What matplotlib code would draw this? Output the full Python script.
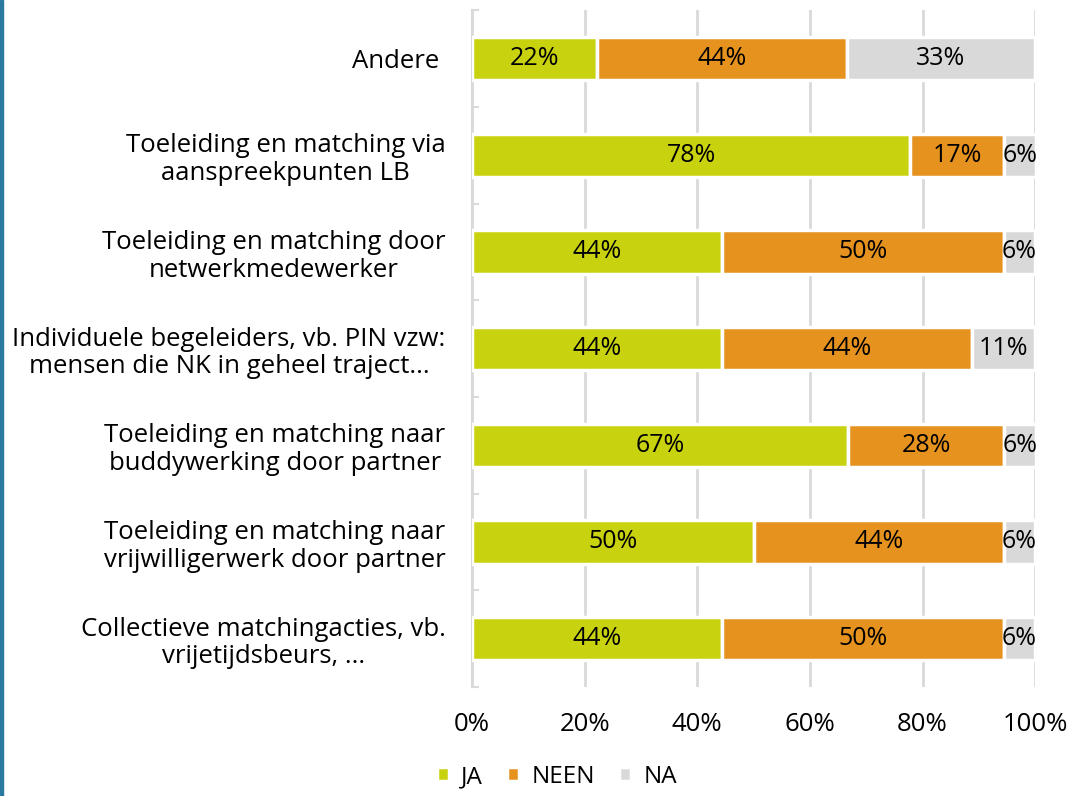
import matplotlib.pyplot as plt
from matplotlib.patches import Rectangle

plt.rcParams['font.family'] = ['Open Sans', 'DejaVu Sans']

# data (percentages, top to bottom)
categories = [
    "Andere ",
    "Toeleiding en matching via\naanspreekpunten LB",
    "Toeleiding en matching door\nnetwerkmedewerker",
    "Individuele begeleiders, vb. PIN vzw:\nmensen die NK in geheel traject...",
    "Toeleiding en matching naar\nbuddywerking door partner",
    "Toeleiding en matching naar\nvrijwilligerwerk door partner",
    "Collectieve matchingacties, vb.\nvrijetijdsbeurs, ...",
]
ja = [22.2, 77.8, 44.4, 44.4, 66.7, 50.0, 44.4]
neen = [44.4, 16.7, 50.0, 44.4, 27.8, 44.4, 50.0]
na = [33.3, 5.6, 5.6, 11.1, 5.6, 5.6, 5.6]
series = ["JA", "NEEN", "NA"]
colors = ["#c9d20e", "#e6921f", "#d9d9d9"]

fig = plt.figure(figsize=(10.75, 7.96), dpi=100)
ax = fig.add_axes([0.439, 0.137, 0.524, 0.850])

y = list(range(len(categories)))
left = [0.0] * len(categories)
for name, vals, col in zip(series, [ja, neen, na], colors):
    bars = ax.barh(y, vals, left=left, height=0.45, color=col,
                   edgecolor="white", linewidth=2.5, label=name, zorder=3)
    for b, v in zip(bars, vals):
        ax.text(b.get_x() + b.get_width() / 2, b.get_y() + b.get_height() / 2,
                f"{round(v)}%", ha="center", va="center", fontsize=18,
                color="black", zorder=4)
    left = [l + v for l, v in zip(left, vals)]

ax.set_xlim(0, 100)
ax.set_ylim(len(categories) - 0.5, -0.5)
ax.set_xticks([0, 20, 40, 60, 80, 100])
ax.set_xticklabels([f"{t}%" for t in [0, 20, 40, 60, 80, 100]], fontsize=18.5)
ax.set_yticks(y)
ax.set_yticklabels(categories, fontsize=18.5)
for lbl in ax.get_yticklabels():
    lbl.set_multialignment("center")
    lbl.set_linespacing(1.15)
ax.tick_params(axis="y", length=0, pad=19)
ax.tick_params(axis="x", length=0, pad=18)
ax.set_yticks([i - 0.5 for i in range(len(categories) + 1)], minor=True)
ax.tick_params(axis="y", which="minor", length=5, direction="in", color="#d9d9d9", width=1.5)

ax.grid(axis="x", color="#d9d9d9", linewidth=2, zorder=0)
for s in ["top", "right", "bottom"]:
    ax.spines[s].set_visible(False)
ax.spines["left"].set_color("#d9d9d9")
ax.spines["left"].set_linewidth(1.5)

fig.legend(loc="center", bbox_to_anchor=(0.518, 0.024), ncol=3, frameon=False,
           fontsize=17.5, handlelength=0.5, handleheight=0.5, handletextpad=0.5,
           columnspacing=1.0, borderpad=0.1)

fig.add_artist(Rectangle((0, 0), 3 / 1075, 1, transform=fig.transFigure,
                         color="#2a7aa0", zorder=10))

fig.savefig("out.png", dpi=100)
